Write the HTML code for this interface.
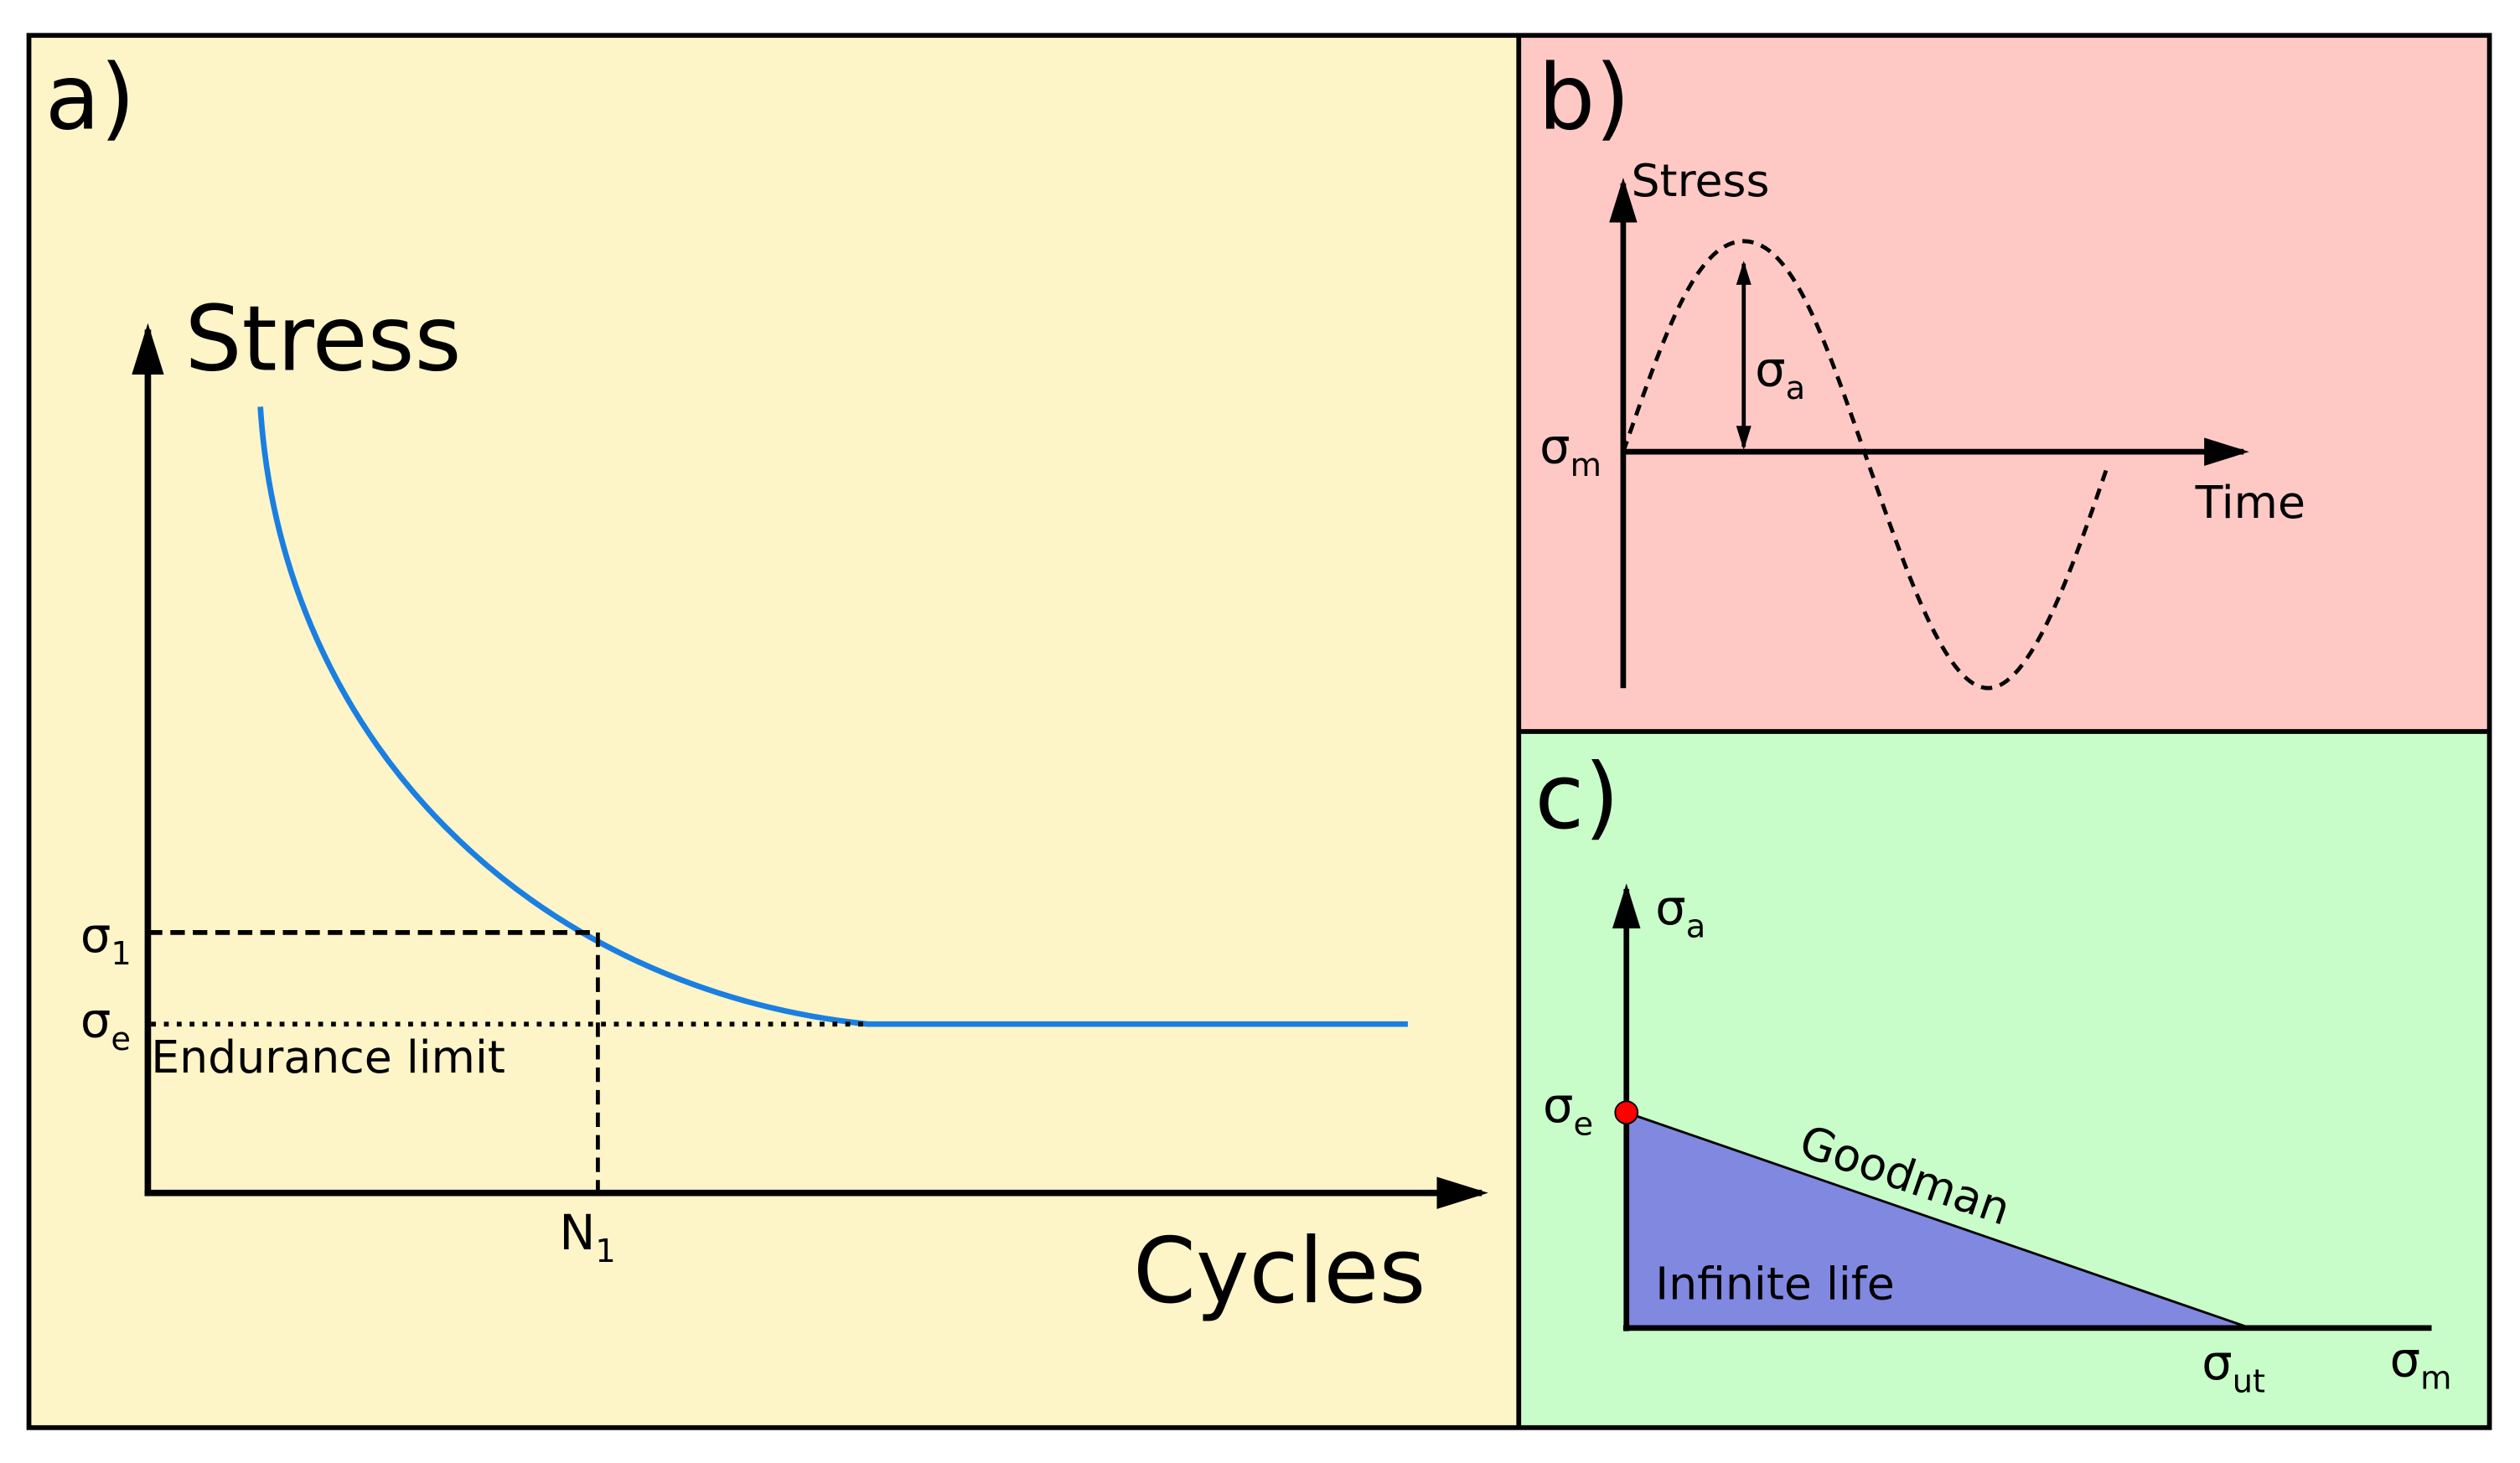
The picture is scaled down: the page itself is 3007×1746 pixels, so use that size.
<!DOCTYPE html>
<html><head><meta charset="utf-8"><style>
html,body{margin:0;padding:0;background:#fff;}
svg{display:block;}
text{font-family:"DejaVu Sans","Liberation Sans",sans-serif;fill:#000;}
</style></head><body>
<svg width="3007" height="1746" viewBox="0 0 1568 910" preserveAspectRatio="none" xmlns="http://www.w3.org/2000/svg">
<defs>
<marker id="ah" viewBox="0 0 16 10" refX="14" refY="5" markerWidth="8" markerHeight="5" orient="auto" markerUnits="strokeWidth"><path d="M0,0 L16,5 L0,10 z" fill="#000"/></marker>
<marker id="ahs" viewBox="0 0 16 10" refX="14" refY="5" markerWidth="6" markerHeight="4" orient="auto-start-reverse" markerUnits="strokeWidth"><path d="M0,0 L16,5 L0,10 z" fill="#000"/></marker>
</defs>
<rect x="0" y="0" width="1568" height="910" fill="#fff"/>
<rect x="18" y="22" width="927" height="866" fill="#fdf4c8"/>
<rect x="945" y="22" width="604" height="433" fill="#fec9c5"/>
<rect x="945" y="455" width="604" height="433" fill="#c8fdc9"/>
<rect x="18" y="22" width="1531" height="866" fill="none" stroke="#000" stroke-width="3"/>
<line x1="945" y1="22" x2="945" y2="888" stroke="#000" stroke-width="3"/>
<line x1="945" y1="455" x2="1549" y2="455" stroke="#000" stroke-width="3"/>

<text x="28" y="80" font-size="56">a)</text>
<text x="957" y="80" font-size="56">b)</text>
<text x="955" y="515" font-size="56">c)</text>

<!-- panel a -->
<path d="M162,253 C175,460 330,615 540,637 L876,637" fill="none" stroke="#1a7fe0" stroke-width="3.5"/>
<line x1="92" y1="580" x2="372" y2="580" stroke="#000" stroke-width="3" stroke-dasharray="9,5"/>
<line x1="372" y1="580" x2="372" y2="742" stroke="#000" stroke-width="2.5" stroke-dasharray="9,5"/>
<line x1="94" y1="637" x2="540" y2="637" stroke="#000" stroke-width="3" stroke-dasharray="3,5"/>
<line x1="92" y1="744" x2="92" y2="205" stroke="#000" stroke-width="4" marker-end="url(#ah)"/>
<line x1="90" y1="742" x2="922" y2="742" stroke="#000" stroke-width="4" marker-end="url(#ah)"/>
<text x="115" y="230" font-size="56">Stress</text>
<text x="705" y="810" font-size="56">Cycles</text>
<text x="50" y="592" font-size="30">σ<tspan font-size="20" dy="8">1</tspan></text>
<text x="50" y="645" font-size="30">σ<tspan font-size="20" dy="8">e</tspan></text>
<text x="94" y="667" font-size="28">Endurance limit</text>
<text x="348" y="777" font-size="30">N<tspan font-size="20" dy="8">1</tspan></text>

<!-- panel b -->
<path d="M1010,281 C1035,210 1055,150 1085,150 C1115,150 1135,210 1160,281 C1185,352 1210,428 1237,428 C1264,428 1290,352 1312,288" fill="none" stroke="#000" stroke-width="2.5" stroke-dasharray="7,5"/>
<line x1="1010" y1="428" x2="1010" y2="114" stroke="#000" stroke-width="3.5" marker-end="url(#ah)"/>
<line x1="1010" y1="281" x2="1396" y2="281" stroke="#000" stroke-width="3.5" marker-end="url(#ah)"/>
<line x1="1085" y1="164" x2="1085" y2="278" stroke="#000" stroke-width="2.5" marker-start="url(#ahs)" marker-end="url(#ahs)"/>
<text x="1015" y="122" font-size="28">Stress</text>
<text x="1366" y="322" font-size="28">Time</text>
<text x="958" y="288" font-size="30">σ<tspan font-size="20" dy="8">m</tspan></text>
<text x="1092" y="240" font-size="30">σ<tspan font-size="20" dy="8">a</tspan></text>

<!-- panel c -->
<polygon points="1012,692 1012,826 1400,826" fill="#8088e0"/>
<line x1="1012" y1="692" x2="1400" y2="826" stroke="#000" stroke-width="1.5"/>
<line x1="1012" y1="828" x2="1012" y2="553" stroke="#000" stroke-width="3.5" marker-end="url(#ah)"/>
<line x1="1010" y1="826" x2="1513" y2="826" stroke="#000" stroke-width="3.5"/>
<circle cx="1012" cy="692" r="7" fill="#f00" stroke="#000" stroke-width="1"/>
<text x="1030" y="575" font-size="30">σ<tspan font-size="20" dy="8">a</tspan></text>
<text x="960" y="698" font-size="30">σ<tspan font-size="20" dy="8">e</tspan></text>
<text x="1118" y="718" font-size="28" transform="rotate(19 1118 718)">Goodman</text>
<text x="1030" y="808" font-size="28">Infinite life</text>
<text x="1370" y="858" font-size="30">σ<tspan font-size="20" dy="8">ut</tspan></text>
<text x="1487" y="856" font-size="30">σ<tspan font-size="20" dy="8">m</tspan></text>
</svg>
</body></html>
